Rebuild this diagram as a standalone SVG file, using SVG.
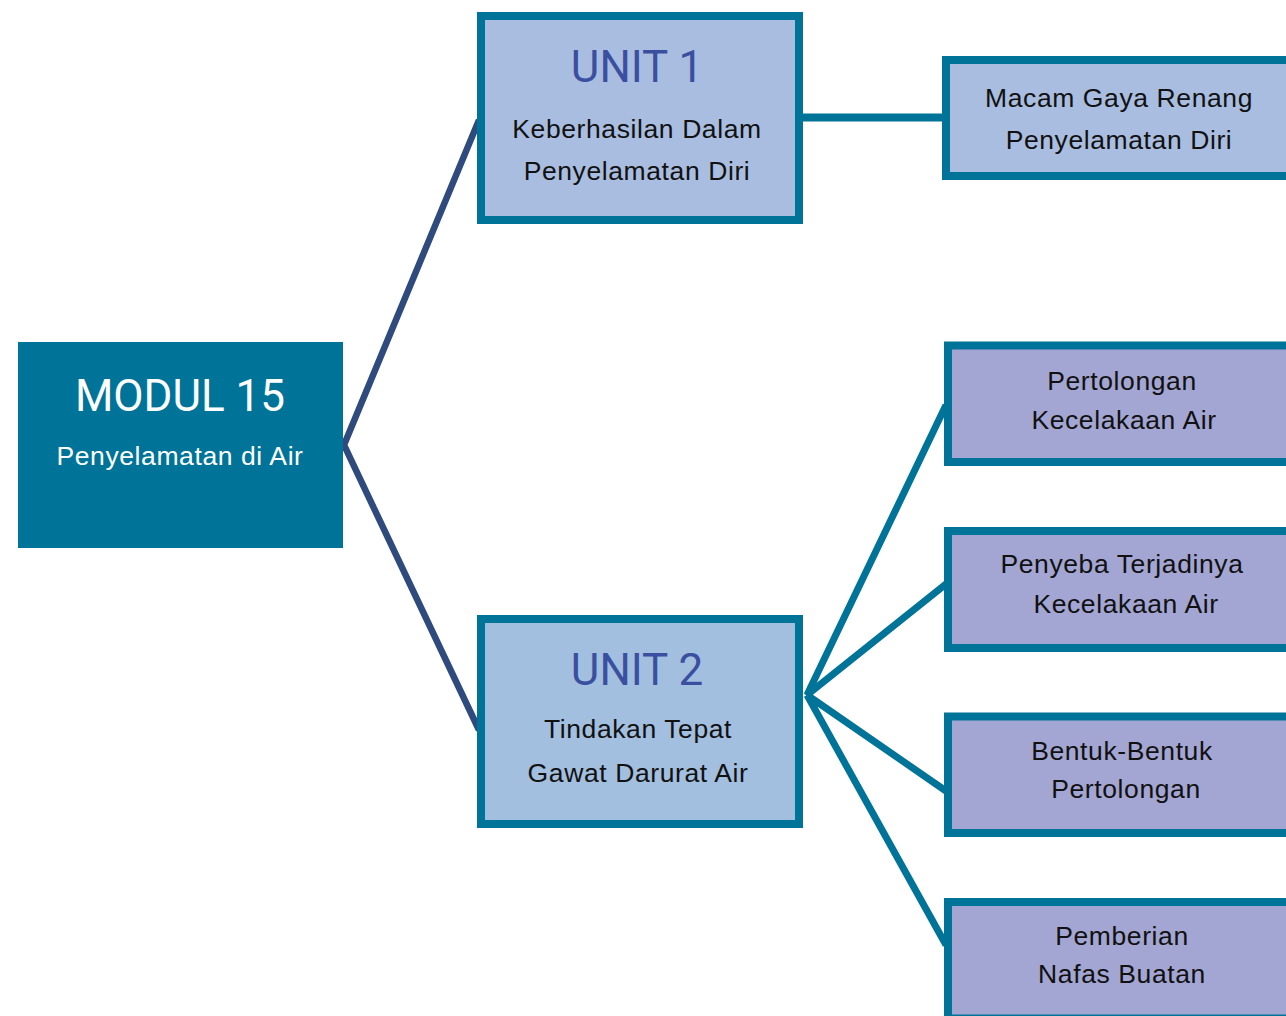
<svg xmlns="http://www.w3.org/2000/svg" width="1286" height="1016" viewBox="0 0 1286 1016">
<style>
.box{stroke:#007398;stroke-width:8}
.u1{fill:#A9BDE0}
.u2{fill:#A2BFDF}
.pu{fill:#A3A6D3}
.t{font-family:"Liberation Sans",Arial,sans-serif;font-size:26.5px;letter-spacing:0.6px;fill:#111;text-anchor:middle}
.h{font-family:Roboto,"Liberation Sans",sans-serif;font-size:44px;text-anchor:middle}
.conn-dark{stroke:#2F4A7C;stroke-width:6.5;fill:none}
.conn{stroke:#007398;stroke-width:7;fill:none}
</style>
<rect width="1286" height="1016" fill="#fff"/>
<g id="connectors">
<path class="conn-dark" d="M479 120 L344 445 L479 730"/>
<path class="conn" d="M803 117.5 H946" style="stroke-width:8"/>
<path class="conn" d="M946 405 L807 695 L946 584 M807 695 L946 791 M807 695 L946 945"/>
</g>
<g id="modul">
<rect x="18" y="342" width="325" height="206" fill="#007399"/>
<text class="h" x="180" y="411" fill="#fff">MODUL 15</text>
<text class="t" x="180" y="465" style="fill:#fff">Penyelamatan di Air</text>
</g>
<g id="unit1">
<rect class="box u1" x="481" y="16" width="318" height="204"/>
<text class="h" x="637" y="82" fill="#3B4FA0">UNIT 1</text>
<text class="t" x="637" y="138">Keberhasilan Dalam</text>
<text class="t" x="637" y="180">Penyelamatan Diri</text>
</g>
<g id="unit2">
<rect class="box u2" x="481" y="619" width="318" height="205"/>
<text class="h" x="637" y="685" fill="#3B4FA0">UNIT 2</text>
<text class="t" x="638" y="738">Tindakan Tepat</text>
<text class="t" x="638" y="782">Gawat Darurat Air</text>
</g>
<g id="macam">
<rect class="box u1" x="946" y="60" width="360" height="116"/>
<text class="t" x="1119" y="107">Macam Gaya Renang</text>
<text class="t" x="1119" y="149">Penyelamatan Diri</text>
</g>
<g id="pertolongan">
<rect class="box pu" x="948" y="345.5" width="360" height="116.5"/>
<text class="t" x="1122" y="390">Pertolongan</text>
<text class="t" x="1124" y="429">Kecelakaan Air</text>
</g>
<g id="penyeba">
<rect class="box pu" x="948" y="531" width="360" height="117"/>
<text class="t" x="1122" y="573">Penyeba Terjadinya</text>
<text class="t" x="1126" y="613">Kecelakaan Air</text>
</g>
<g id="bentuk">
<rect class="box pu" x="948" y="716.5" width="360" height="116.5"/>
<text class="t" x="1122" y="760">Bentuk-Bentuk</text>
<text class="t" x="1126" y="798">Pertolongan</text>
</g>
<g id="pemberian">
<rect class="box pu" x="948" y="902" width="360" height="116.5"/>
<text class="t" x="1122" y="945">Pemberian</text>
<text class="t" x="1122" y="983">Nafas Buatan</text>
</g>
</svg>
